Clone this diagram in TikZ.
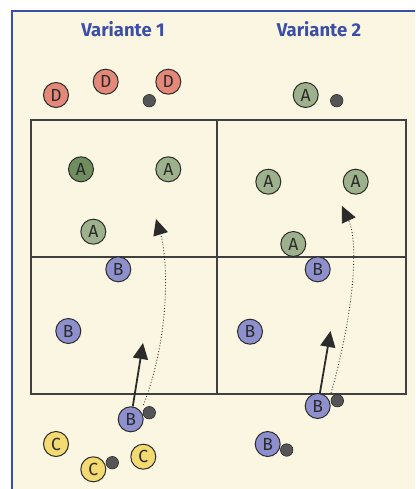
\documentclass[tikz,border=0pt]{standalone}
\usepackage{fontspec}
\setmainfont{Fira Sans}
\usetikzlibrary{arrows.meta}
\definecolor{cream}{HTML}{FBF6E1}
\definecolor{frameblue}{HTML}{3C4FA8}
\definecolor{dred}{HTML}{E4887A}
\definecolor{agreen}{HTML}{9DB18C}
\definecolor{adark}{HTML}{6F8D5E}
\definecolor{bblue}{HTML}{8D90CD}
\definecolor{cyellow}{HTML}{F3DB72}
\definecolor{ballgray}{HTML}{555557}
\definecolor{ink}{HTML}{2B2B2B}
\begin{document}
\begin{tikzpicture}[x=1pt,y=-1pt,
  player/.style={circle,draw=ink,line width=1pt,minimum size=25pt,inner sep=0pt,
    font=\fontsize{17.5pt}{17.5pt}\selectfont,text=ink},
  pd/.style={player,fill=dred},
  pa/.style={player,fill=agreen},
  pad/.style={player,fill=adark},
  pb/.style={player,fill=bblue},
  pc/.style={player,fill=cyellow},
  ball/.style={circle,draw=ink,line width=0.6pt,fill=ballgray,minimum size=12.5pt,inner sep=0pt},
  court/.style={draw=ink!90,line width=1.3pt},
  title/.style={text=frameblue,font=\fontsize{18.5pt}{18.5pt}\selectfont\bfseries},
  run/.style={ink,line width=1.8pt,-{Triangle[length=16pt,width=15pt]}},
  pass/.style={ink,line width=0.9pt,dotted,-{Triangle[length=16pt,width=15pt]}}]
\useasboundingbox (0,0) rectangle (415,489);
\fill[cream] (12,11) rectangle (415,489);
\draw[frameblue,line width=2pt] (12,489) -- (12,11) -- (415,11);
% titles
\node[title] (t1) at (123,29) {Variante 1};
\node[title] (t2) at (319,29) {Variante 2};
% court
\draw[court] (31,120) rectangle (406,394);
\draw[court] (217,120) -- (217,394);
\draw[court] (31,257) -- (406,257);
% Variante 1
\node[pd] (d1) at (56,95) {D};
\node[pd] (d2) at (105.7,81.7) {D};
\node[pd] (d3) at (168.3,81.7) {D};
\node[ball] (bl1) at (149.3,100.7) {};
\node[pad] (a1) at (81,169.3) {A};
\node[pa] (a2) at (168.3,169.3) {A};
\node[pa] (a3) at (93.3,231.7) {A};
\node[pb] (b1) at (118.3,269.3) {B};
\node[pb] (b2) at (68.3,331) {B};
\node[pb] (b3) at (130.7,419.3) {B};
\node[ball] (bl2) at (149.3,412.7) {};
\node[pc] (c1) at (56,444) {C};
\node[pc] (c2) at (93.3,469.3) {C};
\node[ball] (bl3) at (112.3,462.7) {};
\node[pc] (c3) at (143.3,456.7) {C};
\coordinate (r1) at (143,343);
\coordinate (p1s) at (143.5,405);
\coordinate (p1e) at (156,219);
\draw[run] (b3) -- (r1);
\draw[pass] (p1s) .. controls (172,330) and (167,255) .. (p1e);
% Variante 2
\node[pa] (a4) at (305.7,95) {A};
\node[ball] (bl4) at (336.7,100.7) {};
\node[pa] (a5) at (268.3,181.7) {A};
\node[pa] (a6) at (355.7,181.7) {A};
\node[pa] (a7) at (293.3,244) {A};
\node[pb] (b4) at (317.7,269.3) {B};
\node[pb] (b5) at (250,331.7) {B};
\node[pb] (b6) at (317.7,406) {B};
\node[ball] (bl5) at (337.3,400.7) {};
\node[pb] (b7) at (267.7,444) {B};
\node[ball] (bl6) at (286.7,450) {};
\coordinate (r2) at (330.5,331);
\coordinate (p2s) at (331,393);
\coordinate (p2e) at (342,206);
\draw[run] (b6) -- (r2);
\draw[pass] (p2s) .. controls (352,320) and (360,245) .. (p2e);
\end{tikzpicture}
\end{document}
